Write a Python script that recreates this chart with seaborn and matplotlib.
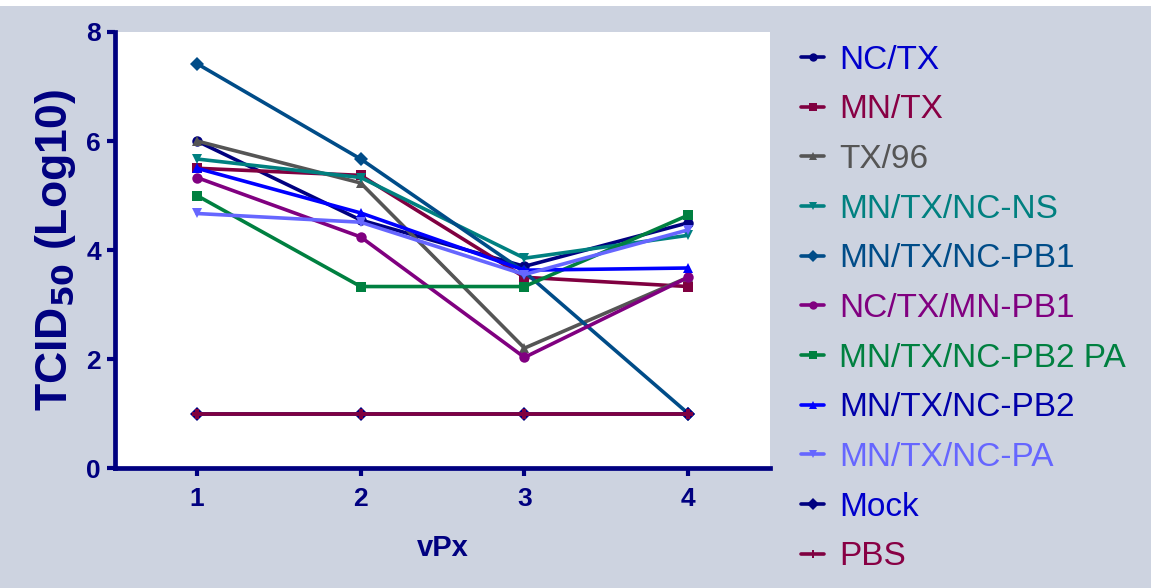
import numpy as np
import pandas as pd
import matplotlib
matplotlib.use("Agg")
import matplotlib.pyplot as plt
import matplotlib.patches as mpatches
import seaborn as sns

passages = [1, 2, 3, 4]

nc_tx = [6.0, 4.55, 3.7, 4.5]
mn_tx = [5.5, 5.37, 3.5, 3.33]
tx_96 = [6.0, 5.23, 2.2, 3.5]
mn_tx_nc_ns = [5.67, 5.33, 3.85, 4.27]
mn_tx_nc_pb1 = [7.42, 5.67, 3.6, 1.0]
nc_tx_mn_pb1 = [5.33, 4.24, 2.03, 3.5]
mn_tx_nc_pb2_pa = [5.0, 3.33, 3.33, 4.64]
mn_tx_nc_pb2 = [5.5, 4.68, 3.63, 3.67]
mn_tx_nc_pa = [4.67, 4.51, 3.55, 4.37]
mock = [1.0, 1.0, 1.0, 1.0]
pbs = [1.0, 1.0, 1.0, 1.0]

series = {
    "NC/TX": nc_tx,
    "MN/TX": mn_tx,
    "TX/96": tx_96,
    "MN/TX/NC-NS": mn_tx_nc_ns,
    "MN/TX/NC-PB1": mn_tx_nc_pb1,
    "NC/TX/MN-PB1": nc_tx_mn_pb1,
    "MN/TX/NC-PB2 PA": mn_tx_nc_pb2_pa,
    "MN/TX/NC-PB2": mn_tx_nc_pb2,
    "MN/TX/NC-PA": mn_tx_nc_pa,
    "Mock": mock,
    "PBS": pbs,
}
names = list(series.keys())

line_colors = {
    "NC/TX": "#000080", "MN/TX": "#800040", "TX/96": "#555555",
    "MN/TX/NC-NS": "#008080", "MN/TX/NC-PB1": "#004c88",
    "NC/TX/MN-PB1": "#800080", "MN/TX/NC-PB2 PA": "#008040",
    "MN/TX/NC-PB2": "#0000ff", "MN/TX/NC-PA": "#6666ff",
    "Mock": "#000080", "PBS": "#800040",
}
text_colors = {
    "NC/TX": "#0000cc", "MN/TX": "#880044", "TX/96": "#555555",
    "MN/TX/NC-NS": "#008080", "MN/TX/NC-PB1": "#004c88",
    "NC/TX/MN-PB1": "#800080", "MN/TX/NC-PB2 PA": "#008040",
    "MN/TX/NC-PB2": "#0000aa", "MN/TX/NC-PA": "#6666ff",
    "Mock": "#0000cc", "PBS": "#880044",
}
markers = {
    "NC/TX": "o", "MN/TX": "s", "TX/96": "^", "MN/TX/NC-NS": "v",
    "MN/TX/NC-PB1": "D", "NC/TX/MN-PB1": "o", "MN/TX/NC-PB2 PA": "s",
    "MN/TX/NC-PB2": "^", "MN/TX/NC-PA": "v", "Mock": "D", "PBS": "P",
}

df = pd.DataFrame([
    {"vPx": x, "value": v, "series": n}
    for n in names for x, v in zip(passages, series[n])
])

navy = "#000080"
bg = "#cdd3e0"

sns.set_style("ticks")
plt.rcParams["font.family"] = ["Liberation Sans", "DejaVu Sans"]
plt.rcParams["mathtext.default"] = "bf"

fig = plt.figure(figsize=(11.51, 5.88), dpi=100, facecolor=bg)
fig.patches.append(mpatches.Rectangle((0, 0.99), 1, 0.01, transform=fig.transFigure,
                                      facecolor="white", edgecolor="none", zorder=0))
ax = fig.add_axes([0.0999, 0.204, 0.5692, 0.7416])
ax.set_facecolor("white")

sns.lineplot(
    data=df, x="vPx", y="value", hue="series", style="series",
    hue_order=names, style_order=names, palette=line_colors,
    markers=markers, dashes=False, linewidth=2.6, markersize=7.5,
    markeredgewidth=0, ax=ax,
)

ax.set_xlim(0.5, 4.5)
ax.set_ylim(0, 8)
ax.set_xticks(passages)
ax.set_yticks([0, 2, 4, 6, 8])
ax.tick_params(axis="both", colors=navy, width=3, length=6, labelsize=19, pad=4)
ax.tick_params(axis="x", pad=8)
for lbl in ax.get_xticklabels() + ax.get_yticklabels():
    lbl.set_fontweight("bold")
    lbl.set_color(navy)
for spine in ["top", "right"]:
    ax.spines[spine].set_visible(False)
for spine in ["left", "bottom"]:
    ax.spines[spine].set_linewidth(3.4)
    ax.spines[spine].set_color(navy)

ax.set_xlabel("vPx", fontsize=21, fontweight="bold", color=navy, labelpad=16)
ax.set_ylabel("TCID$_{50}$ (Log10)", fontsize=32, fontweight="bold", color=navy, labelpad=6)

handles, labels = ax.get_legend_handles_labels()
ax.get_legend().remove()
for h in handles:
    h.set_linewidth(2.6)
    h.set_markersize(6)
leg = fig.legend(
    handles, labels, loc="upper left", bbox_to_anchor=(0.696, 0.924),
    frameon=False, fontsize=24, handlelength=0.7, handletextpad=0.45,
    labelspacing=0.56, borderpad=0, borderaxespad=0,
)
for t in leg.get_texts():
    t.set_color(text_colors[t.get_text()])

fig.savefig("out.png", dpi=100, facecolor=bg)
